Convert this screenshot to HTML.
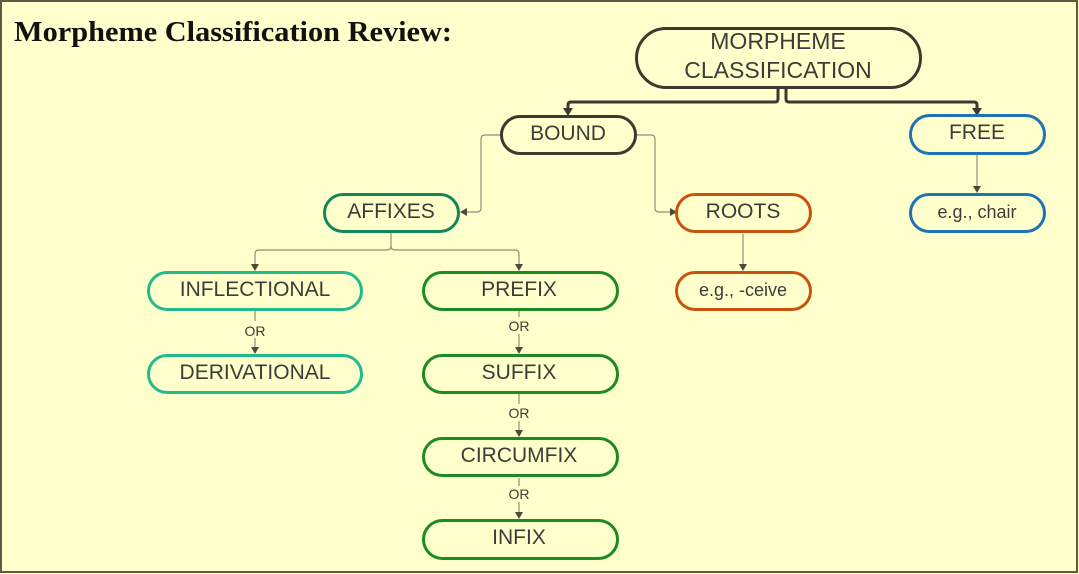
<!DOCTYPE html>
<html>
<head>
<meta charset="utf-8">
<style>
  html,body{margin:0;padding:0;background:#FFFFCC;}
  svg{display:block;}
  .n{font-family:"Liberation Sans",Arial,sans-serif;fill:#3c3c38;text-anchor:middle;}
</style>
</head>
<body>
<svg width="1079" height="574" viewBox="0 0 1079 574" xmlns="http://www.w3.org/2000/svg">
  <rect x="0" y="0" width="1079" height="574" fill="#FFFFCC"/>
  <rect x="1" y="1" width="1076" height="571" fill="none" stroke="#5a5a45" stroke-width="2"/>

  <text x="14" y="41" font-family="'Liberation Serif',serif" font-weight="bold" font-size="28" fill="#111" textLength="438" lengthAdjust="spacingAndGlyphs">Morpheme Classification Review:</text>

  <!-- thick connectors -->
  <g fill="none" stroke="#3a3a33" stroke-width="3">
    <path d="M778,89 V99 Q778,102 775,102 H571 Q568,102 568,105 V110"/>
    <path d="M786,89 V99 Q786,102 789,102 H974 Q977,102 977,105 V110"/>
  </g>
  <g fill="#3a3a33">
    <polygon points="563,108 573,108 568,116"/>
    <polygon points="972,108 982,108 977,116"/>
  </g>

  <!-- thin connectors -->
  <g fill="none" stroke="#8f8f78" stroke-width="1.2">
    <path d="M501,135 H485 Q481,135 481,139 V208 Q481,212 477,212 H467"/>
    <path d="M636,135 H651 Q655,135 655,139 V208 Q655,212 659,212 H670"/>
    <path d="M391,233 V246 Q391,250 387,250 H259 Q255,250 255,254 V264"/>
    <path d="M391,246 Q391,250 395,250 H515 Q519,250 519,254 V264"/>
    <path d="M255,311 V321 M255,338 V348"/>
    <path d="M519,311 V317 M519,334 V348"/>
    <path d="M519,394 V404 M519,421 V431"/>
    <path d="M519,478 V486 M519,502 V513"/>
    <path d="M743,234 V265"/>
    <path d="M977,155 V187"/>
  </g>
  <g fill="#4a4a40">
    <polygon points="467,208 467,216 460,212"/>
    <polygon points="670,208 670,216 677,212"/>
    <polygon points="251,264 259,264 255,271"/>
    <polygon points="515,264 523,264 519,271"/>
    <polygon points="251,347 259,347 255,354"/>
    <polygon points="515,347 523,347 519,354"/>
    <polygon points="515,430 523,430 519,437"/>
    <polygon points="515,512 523,512 519,519"/>
    <polygon points="739,264 747,264 743,271"/>
    <polygon points="973,186 981,186 977,193"/>
  </g>

  <!-- OR labels -->
  <g class="n" font-size="14">
    <text x="255" y="336">OR</text>
    <text x="519" y="331">OR</text>
    <text x="519" y="418">OR</text>
    <text x="519" y="499">OR</text>
  </g>

  <!-- nodes -->
  <g fill="none" stroke-width="3">
    <rect x="636.5" y="28.5" width="284" height="59" rx="29.5" stroke="#3a3a33"/>
    <rect x="501.5" y="116.5" width="134" height="37" rx="18.5" stroke="#3a3a33"/>
    <rect x="910.5" y="115.5" width="134" height="38" rx="19" stroke="#1f72b5"/>
    <rect x="910.5" y="194.5" width="134" height="37" rx="18.5" stroke="#1f72b5"/>
    <rect x="676.5" y="194.5" width="134" height="37" rx="18.5" stroke="#c9520f"/>
    <rect x="676.5" y="272.5" width="134" height="37" rx="18.5" stroke="#c9520f"/>
    <rect x="324.5" y="194.5" width="134" height="37" rx="18.5" stroke="#14875a"/>
    <rect x="148.5" y="272.5" width="213" height="37" rx="18.5" stroke="#24bb8c"/>
    <rect x="148.5" y="355.5" width="213" height="37" rx="18.5" stroke="#24bb8c"/>
    <rect x="423.5" y="272.5" width="194" height="37" rx="18.5" stroke="#1d8a24"/>
    <rect x="423.5" y="355.5" width="194" height="37" rx="18.5" stroke="#1d8a24"/>
    <rect x="423.5" y="438.5" width="194" height="37" rx="18.5" stroke="#1d8a24"/>
    <rect x="423.5" y="520.5" width="194" height="38" rx="19" stroke="#1d8a24"/>
  </g>

  <g class="n" font-size="23">
    <text x="778" y="49">MORPHEME</text>
    <text x="778" y="78">CLASSIFICATION</text>
  </g>
  <g class="n" font-size="21">
    <text x="568" y="140">BOUND</text>
    <text x="977" y="139">FREE</text>
    <text x="743" y="218">ROOTS</text>
    <text x="391" y="218">AFFIXES</text>
    <text x="255" y="296">INFLECTIONAL</text>
    <text x="255" y="379">DERIVATIONAL</text>
    <text x="519" y="296">PREFIX</text>
    <text x="519" y="379">SUFFIX</text>
    <text x="519" y="462">CIRCUMFIX</text>
    <text x="519" y="544">INFIX</text>
  </g>
  <g class="n" font-size="18">
    <text x="977" y="218">e.g., chair</text>
    <text x="743" y="296">e.g., -ceive</text>
  </g>
</svg>
</body>
</html>
